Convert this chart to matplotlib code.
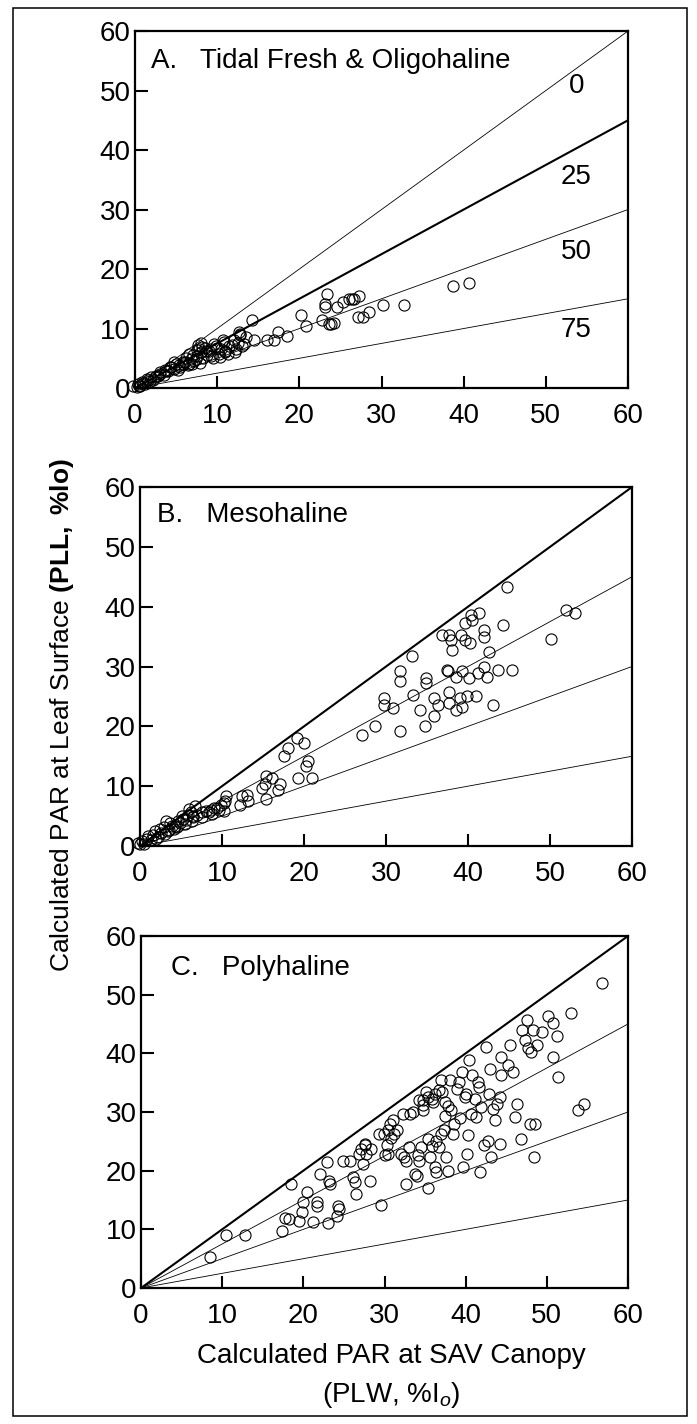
import numpy as np
import matplotlib
matplotlib.use('Agg')
import matplotlib.pyplot as plt
from matplotlib.patches import Rectangle

plt.rcParams['font.family'] = ['Liberation Sans', 'DejaVu Sans']
plt.rcParams['mathtext.fontset'] = 'custom'
plt.rcParams['mathtext.rm'] = 'Liberation Sans'
plt.rcParams['mathtext.it'] = 'Liberation Sans:italic'
plt.rcParams['mathtext.bf'] = 'Liberation Sans:bold'

# attenuation lines (% light lost to epiphytes) : PLL = PLW * (1 - a/100)
atten = [0, 25, 50, 75]
atten_labels = ['0', '25', '50', '75']

# panel A - tidal fresh & oligohaline
a_x = [40.6, 38.7, 32.7, 30.2, 28.5, 27.7, 27.2, 27.3, 26.6, 26.4, 26.1, 25.3, 24.6, 23.4,
       23.1, 23.1, 24.2, 23.9, 23.6, 22.8, 20.8, 20.2, 18.5, 17.4, 16.9, 16.1, 14.2, 14.5,
       13.3, 12.8, 12.6, 12.3, 12.0, 10.7, 10.9, 10.4, 9.6, 9.0, 8.8, 8.2, 8.0, 7.7, 7.4,
       6.9, 6.6, 6.1, 5.3, 4.7, 4.2, 3.6, 3.1, 2.5, 2.0, 1.5, 0.9, 0.4, -0.2,
       1.2, 2.2, 3.5, 4.8, 5.5, 6.4, 7.2, 8.3, 9.2, 10.2, 11.0, 11.5, 12.5, 8.5, 7.8, 9.8,
       10.8, 13.5, 12.8, 0.3, 0.6, 1.8, 2.8, 4.0, 5.9, 6.8, 7.6,
       0.5, 1.0, 1.6, 2.4, 3.0, 3.8, 4.4, 5.0, 5.8, 6.2, 7.0, 7.5, 8.0, 8.6, 9.3, 9.5,
       10.0, 10.5, 11.3, 11.8, 12.2, 13.0, 7.9, 6.6, 5.2]
a_y = [17.6, 17.1, 14.0, 14.0, 12.8, 11.9, 11.9, 15.4, 14.9, 15.0, 14.9, 14.4, 13.7, 15.8,
       14.2, 13.6, 11.0, 10.8, 10.8, 11.4, 10.5, 12.2, 8.8, 9.4, 8.1, 8.1, 11.4, 8.1,
       7.4, 9.1, 9.5, 6.6, 8.0, 8.0, 6.0, 5.2, 7.4, 6.3, 5.5, 6.9, 6.0, 7.2, 4.9,
       4.1, 5.8, 4.4, 3.8, 4.4, 3.5, 3.0, 2.7, 2.1, 1.8, 1.6, 1.0, 0.7, 0.4,
       0.6, 1.4, 2.2, 3.2, 3.5, 3.8, 4.5, 5.0, 5.4, 5.8, 6.3, 7.0, 7.6, 6.8, 6.6, 7.0,
       7.8, 8.5, 8.9, 0.1, 0.3, 1.2, 2.0, 2.9, 4.0, 4.8, 5.4,
       0.4, 0.8, 1.3, 1.9, 2.4, 2.9, 3.6, 4.0, 4.3, 5.0, 5.5, 6.4, 7.5, 6.2, 6.6, 5.0,
       6.8, 6.5, 5.8, 7.3, 6.1, 7.0, 4.2, 4.0, 3.0]

# panel B - mesohaline
b_x = [44.7, 52.0, 53.0, 50.1, 44.3, 45.4, 43.6, 43.1, 42.5, 42.0, 42.0, 42.3, 41.9, 41.3,
       41.2, 41.0, 40.5, 40.4, 40.3, 40.1, 39.9, 39.6, 39.6, 39.3, 39.2, 39.0, 39.3, 38.5,
       38.5, 38.1, 37.9, 37.7, 37.5, 37.4, 37.7, 37.7, 36.8, 36.3, 35.8, 35.8, 34.9, 34.9,
       34.7, 34.1, 33.3, 33.2, 31.7, 31.7, 31.7, 30.9, 29.8, 29.8, 28.7, 27.1,
       20.0, 19.1, 18.0, 17.6, 20.5, 20.2, 21.0, 19.3, 17.1, 16.8, 16.1, 15.4, 15.2, 14.9,
       15.4, 13.0, 13.2, 12.4, 12.2, 10.5, 10.3, 10.3, 9.4, 8.6, 8.4, 7.5, 6.7, 6.5, 6.2,
       5.6, 5.1, 4.6, 4.3, 3.7, 3.2, 2.9, 2.4, 1.8, 1.6, 1.0, 0.8, 0.2, 0.0, -0.3,
       3.5, 4.5, 5.5, 6.5, 2.0, 3.0, 7.5, 8.8, 9.6, 10.4,
       0.5, 1.3, 2.2, 2.6, 3.4, 3.9, 4.9, 5.3, 5.9, 6.3, 7.0, 8.0, 9.0, 9.9, 6.0, 4.1]
b_y = [43.3, 39.4, 39.0, 34.6, 36.9, 29.4, 29.4, 23.6, 32.5, 36.1, 35.0, 28.3, 30.0, 38.9,
       28.9, 25.0, 37.8, 38.6, 33.9, 28.1, 25.0, 37.2, 34.4, 23.3, 35.3, 24.7, 29.2, 22.8,
       28.3, 32.8, 34.4, 35.3, 29.2, 29.4, 25.8, 23.9, 35.3, 23.6, 21.7, 24.7, 27.2, 28.1,
       20.0, 22.8, 25.3, 31.8, 29.2, 27.5, 19.2, 23.1, 24.7, 23.6, 20.1, 18.6,
       17.2, 18.1, 16.4, 15.0, 14.2, 13.3, 11.4, 11.4, 10.3, 9.4, 11.4, 11.7, 10.3, 9.7,
       7.8, 8.6, 7.5, 8.3, 6.9, 8.3, 7.2, 5.8, 6.4, 6.1, 5.7, 5.6, 6.7, 5.0, 5.6,
       4.4, 5.0, 4.2, 3.3, 3.9, 4.2, 3.1, 2.8, 2.5, 1.9, 1.7, 1.1, 0.8, 0.3, 0.5,
       2.6, 3.2, 3.6, 4.8, 1.2, 2.0, 4.9, 5.3, 6.0, 7.5,
       0.3, 1.0, 1.5, 2.2, 2.5, 3.4, 3.9, 4.5, 5.2, 4.1, 5.2, 5.8, 6.3, 6.9, 6.2, 2.8]

# panel C - polyhaline
c_x = [8.5, 10.5, 12.8, 18.5, 17.4, 17.7, 18.2, 19.5, 19.8, 20.0, 20.4, 21.2, 21.7, 21.7,
       22.0, 22.9, 23.1, 23.2, 23.3, 24.2, 24.3, 24.4, 24.9, 25.7, 26.1, 26.4, 26.5, 26.8,
       27.1, 27.4, 27.6, 27.7, 28.2, 28.3, 29.6, 29.9, 30.1, 30.3, 30.4, 30.7, 31.0, 31.2,
       32.0, 32.3, 32.4, 32.6, 32.7, 33.0, 33.1, 33.7, 34.0, 34.1, 34.5, 34.7, 34.8, 35.1,
       35.3, 35.4, 35.6, 35.8, 36.0, 36.2, 36.3, 36.4, 36.7, 37.0, 37.1, 37.3, 37.4, 37.5,
       37.6, 37.8, 38.1, 38.2, 38.4, 39.2, 39.3, 39.6, 39.7, 40.0, 40.2, 40.3, 40.4, 40.6,
       40.8, 41.1, 41.3, 41.5, 41.8, 41.9, 42.2, 42.5, 42.7, 42.9, 43.0, 43.1, 43.6, 43.9,
       44.2, 44.2, 44.3, 44.4, 45.2, 45.5, 45.8, 46.1, 46.3, 46.8, 46.9, 47.3, 47.6, 47.7,
       47.9, 48.1, 48.3, 48.4, 48.5, 48.8, 49.4, 50.2, 50.7, 50.8, 51.3, 51.4, 53.0, 53.8,
       54.6, 56.8, 34.2, 35.3, 36.7, 34.2, 38.9, 30.4, 29.3, 27.6,
       33.5, 34.8, 36.2, 37.8, 31.5, 30.8, 38.6, 35.9, 36.9, 39.9, 41.6, 43.4]
c_y = [5.3, 9.0, 9.0, 17.7, 9.7, 12.0, 11.7, 11.4, 12.9, 14.6, 16.3, 11.3, 14.6, 14.0,
       19.4, 21.4, 11.0, 18.3, 17.7, 12.3, 14.0, 13.4, 21.7, 21.7, 18.9, 18.0, 16.0, 22.9,
       23.7, 21.1, 24.6, 22.9, 18.3, 23.7, 14.2, 26.3, 22.6, 24.3, 26.9, 28.0, 28.6, 26.3,
       22.9, 29.7, 22.3, 21.7, 17.8, 24.0, 29.7, 19.4, 19.1, 22.7, 24.0, 30.3, 32.0, 33.4,
       17.0, 25.4, 22.3, 32.3, 31.7, 20.6, 25.1, 19.7, 24.0, 35.4, 33.4, 26.9, 31.7, 29.4,
       22.3, 20.0, 35.4, 30.3, 26.3, 35.1, 28.9, 36.9, 20.6, 33.1, 22.9, 26.0, 38.9, 29.7,
       36.3, 32.3, 29.1, 35.1, 19.7, 30.9, 24.3, 41.1, 25.1, 33.1, 37.4, 22.3, 28.6, 31.4,
       32.6, 24.6, 36.3, 39.4, 38.0, 41.4, 36.9, 29.1, 31.4, 25.4, 44.0, 42.3, 45.7, 40.9,
       28.0, 40.3, 44.0, 22.3, 28.0, 41.4, 43.7, 46.3, 45.1, 39.4, 42.9, 36.0, 46.9, 30.3,
       31.4, 52.0, 32.0, 32.6, 33.7, 21.7, 34.0, 22.9, 26.3, 24.3,
       30.0, 31.2, 33.0, 31.0, 27.0, 25.5, 28.0, 24.2, 26.3, 32.6, 34.3, 30.5]

panels = [
    ('A.   Tidal Fresh & Oligohaline', a_x, a_y, 25, (2.0, 55.0)),
    ('B.   Mesohaline', b_x, b_y, 0, (2.1, 55.4)),
    ('C.   Polyhaline', c_x, c_y, 0, (3.7, 54.6)),
]
# axes rectangles in figure fraction (left, bottom, width, height)
rects = [
    (0.1937, 0.7275, 0.7073, 0.2507),
    (0.2009, 0.4059, 0.7059, 0.2521),
    (0.2023, 0.0955, 0.6987, 0.2472),
]
fs = 20

fig = plt.figure(figsize=(6.97, 14.24), dpi=100)
fig.patches.append(Rectangle((13 / 697, 8 / 1424), 674 / 697, 1408 / 1424,
                             transform=fig.transFigure, fill=False,
                             edgecolor='black', linewidth=1.1))

xx = np.array([0, 60])
for (title, px, py, thick, tpos), rect in zip(panels, rects):
    ax = fig.add_axes(rect)
    for a in atten:
        ax.plot(xx, xx * (1 - a / 100), color='black',
                linewidth=1.5 if a == thick else 0.6, zorder=2)
    ax.plot(px, py, 'o', ms=8, mfc='none', mec='black', mew=0.8,
            clip_on=False, zorder=3)
    ax.set_xlim(0, 60)
    ax.set_ylim(0, 60)
    ax.set_xticks(range(0, 61, 10))
    ax.set_yticks(range(0, 61, 10))
    ax.tick_params(direction='in', length=9, width=1.5, labelsize=fs)
    ax.tick_params(axis='x', pad=11)
    ax.tick_params(axis='y', pad=3)
    for s in ax.spines.values():
        s.set_linewidth(1.6)
    ax.text(tpos[0], tpos[1], title, fontsize=fs, ha='left', va='center')
    if thick == 25:
        for lab, ly in zip(atten_labels, [50.8, 35.4, 22.8, 9.7]):
            ax.text(53.7, ly, lab, fontsize=fs, ha='center', va='center')

fig.text(0.089, 0.498, 'Calculated PAR at Leaf Surface $\\mathbf{(PLL,\\ \\%lo)}$',
         rotation=90, fontsize=fs - 1, ha='center', va='center')
fig.text(0.561, 0.0478, 'Calculated PAR at SAV Canopy', fontsize=fs,
         ha='center', va='center')
fig.text(0.561, 0.0204, '(PLW, %I$_o$)', fontsize=fs, ha='center', va='center')

fig.savefig('out.png', dpi=100)
